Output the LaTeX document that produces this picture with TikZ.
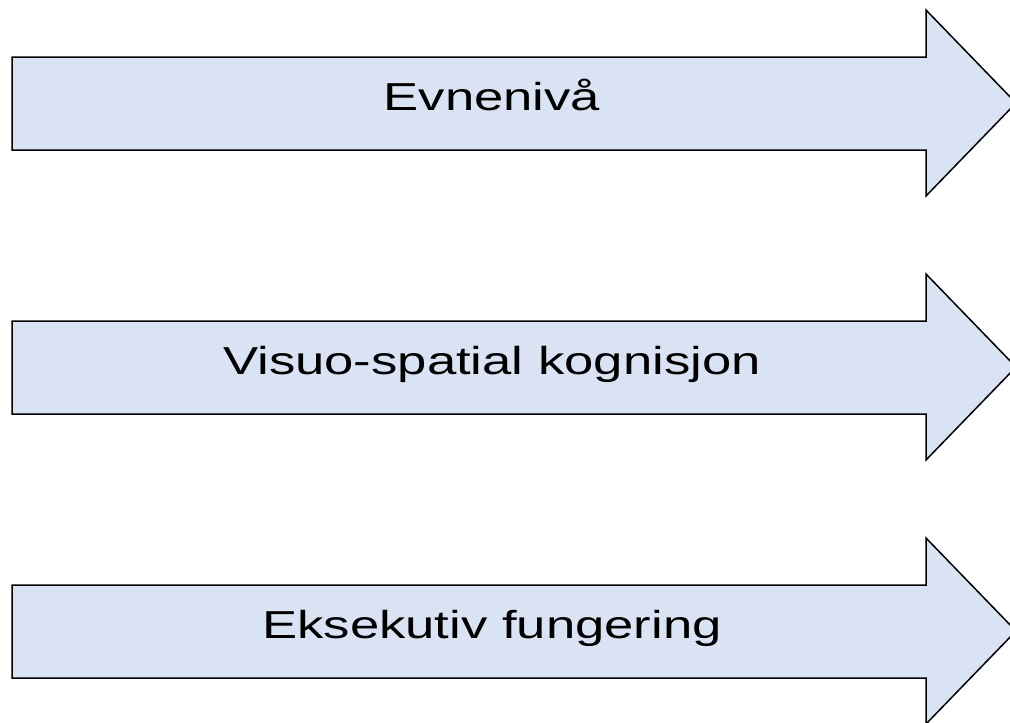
\documentclass[tikz,border=0pt]{standalone}
\usepackage{fontspec}
\setmainfont{Liberation Sans}
\definecolor{arrowfill}{RGB}{218,227,243}
\tikzset{
  blockarrow/.style={draw=black, fill=arrowfill, line width=1.5pt, line join=miter},
  arrowlabel/.style={anchor=base, inner sep=0pt, font=\fontsize{39}{39}\selectfont}
}
\newcommand{\wide}[1]{\scalebox{1.35}[1]{#1}}
\begin{document}
\begin{tikzpicture}[x=1pt, y=-1pt]
  \useasboundingbox (0,0) rectangle (1010,723);
  \clip (0,0) rectangle (1010,723);
  \foreach \dy in {0,264,528} {
    \draw[blockarrow] (12,57+\dy) -- (926,57+\dy) -- (926,10+\dy) -- (1016,103+\dy)
      -- (926,196+\dy) -- (926,150+\dy) -- (12,150+\dy) -- cycle;
  }
  \node[arrowlabel] (l1) at (492,110) {\wide{Evnenivå}};
  \node[arrowlabel] (l2) at (492,374) {\wide{Visuo-spatial kognisjon}};
  \node[arrowlabel] (l3) at (492,638) {\wide{Eksekutiv fungering}};
\end{tikzpicture}
\end{document}
